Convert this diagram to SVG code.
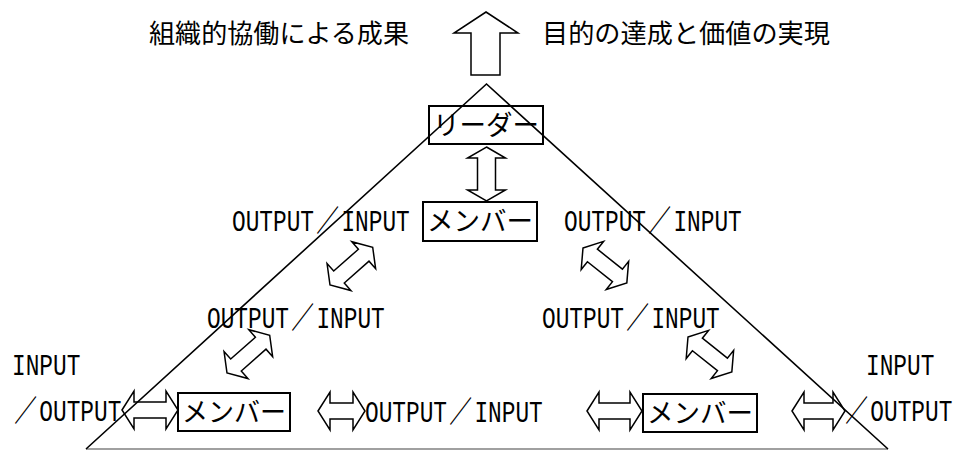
<svg xmlns="http://www.w3.org/2000/svg" width="954" height="450" viewBox="0 0 954 450">
<style>
.jp{font-family:"Noto Sans CJK JP","Noto Sans CJK SC",sans-serif;fill:#000}
.lat{font-family:"Liberation Mono","Noto Sans CJK JP",monospace;font-size:30px;fill:#000}
.sl{font-size:30px}
.box{fill:#fff;stroke:#000;stroke-width:2}
.arr{fill:#fff;stroke:#000;stroke-width:1.5;stroke-linejoin:miter}
.tri{fill:none;stroke:#000;stroke-width:1.6}
</style>
<rect width="954" height="450" fill="#fff"/>
<g id="triangle">
<line x1="86" y1="449" x2="888" y2="449" stroke="#a0a0a0" stroke-width="2"/>
</g>
<g id="titles">
<text class="jp" x="149" y="43" font-size="26" textLength="260" lengthAdjust="spacingAndGlyphs">組織的協働による成果</text>
<text class="jp" x="542" y="43" font-size="26" textLength="288" lengthAdjust="spacingAndGlyphs">目的の達成と価値の実現</text>
</g>
<g id="connectors">
<polygon class="arr" points="486,12 518,33 500,33 500,75 471,75 471,33 454,33"/>
<polygon class="arr" transform="translate(486.5,147) rotate(90)" points="0,0 11,-19 11,-9 43,-9 43,-19 54,0 43,19 43,9 11,9 11,19"/>
<polygon class="arr" transform="translate(330,285) rotate(-41.5)" points="0,0 12,-18 12,-8 45,-8 45,-18 57,0 45,18 45,8 12,8 12,18"/>
<polygon class="arr" transform="translate(583,248) rotate(38.5)" points="0,0 12,-18 12,-8 44,-8 44,-18 56,0 44,18 44,8 12,8 12,18"/>
<polygon class="arr" transform="translate(227,373) rotate(-41.5)" points="0,0 12,-18 12,-8 45,-8 45,-18 57,0 45,18 45,8 12,8 12,18"/>
<polygon class="arr" transform="translate(688,337) rotate(38.5)" points="0,0 12,-18 12,-8 44,-8 44,-18 56,0 44,18 44,8 12,8 12,18"/>
<polygon class="arr" transform="translate(122,410)" points="0,0 12,-19 12,-8 44,-8 44,-19 56,0 44,19 44,8 12,8 12,19"/>
<polygon class="arr" transform="translate(318,411)" points="0,0 12,-19 12,-8 35,-8 35,-19 47,0 35,19 35,8 12,8 12,19"/>
<polygon class="arr" transform="translate(587,411)" points="0,0 12,-19 12,-8 43,-8 43,-19 55,0 43,19 43,8 12,8 12,19"/>
<polygon class="arr" transform="translate(792,411)" points="0,0 12,-19 12,-8 41,-8 41,-19 53,0 41,19 41,8 12,8 12,19"/>
</g>
<g id="leader">
<rect class="box" x="429" y="106" width="114" height="38"/>
<text class="jp" x="433" y="135" font-size="27" textLength="106" lengthAdjust="spacingAndGlyphs">リーダー</text>
</g>
<g id="member-top">
<rect class="box" x="423" y="202" width="114" height="39"/>
<text class="jp" x="427" y="231" font-size="27" textLength="106" lengthAdjust="spacingAndGlyphs">メンバー</text>
</g>
<g id="member-left">
<rect class="box" x="178" y="393" width="112" height="38"/>
<text class="jp" x="182" y="422" font-size="27" textLength="104" lengthAdjust="spacingAndGlyphs">メンバー</text>
</g>
<g id="member-right">
<rect class="box" x="643" y="394" width="114" height="38"/>
<text class="jp" x="647" y="423" font-size="27" textLength="106" lengthAdjust="spacingAndGlyphs">メンバー</text>
</g>
<g id="triangle-sides">
<polyline class="tri" points="86,449 486.5,84 888,449"/>
</g>
<g id="labels">
<text class="lat" transform="translate(232,231) scale(0.76,1)">OUTPUT<tspan class="sl" dx="3">／</tspan><tspan dx="3">INPUT</tspan></text>
<text class="lat" transform="translate(564,231) scale(0.76,1)">OUTPUT<tspan class="sl" dx="3">／</tspan><tspan dx="3">INPUT</tspan></text>
<text class="lat" transform="translate(207,328) scale(0.76,1)">OUTPUT<tspan class="sl" dx="3">／</tspan><tspan dx="3">INPUT</tspan></text>
<text class="lat" transform="translate(542,328) scale(0.76,1)">OUTPUT<tspan class="sl" dx="3">／</tspan><tspan dx="3">INPUT</tspan></text>
<text class="lat" transform="translate(365,422) scale(0.76,1)">OUTPUT<tspan class="sl" dx="3">／</tspan><tspan dx="3">INPUT</tspan></text>
<text class="lat" transform="translate(12,375) scale(0.76,1)">INPUT</text>
<text class="lat" transform="translate(12,421) scale(0.76,1)"><tspan class="sl" dx="3">／</tspan><tspan dx="3">OUTPUT</tspan></text>
<text class="lat" transform="translate(866,375) scale(0.76,1)">INPUT</text>
<text class="lat" transform="translate(843,421) scale(0.76,1)"><tspan class="sl" dx="3">／</tspan><tspan dx="3">OUTPUT</tspan></text>
</g>
</svg>
